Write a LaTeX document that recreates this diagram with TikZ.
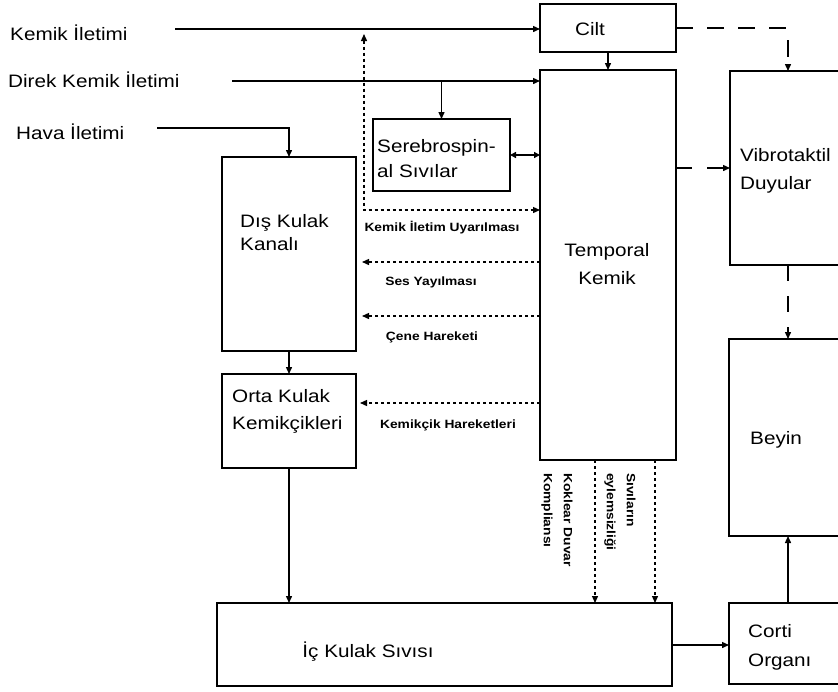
\documentclass[tikz,border=0pt]{standalone}
\usepackage{fontspec}
\setmainfont{Liberation Sans}[FakeStretch=1.15]
\usetikzlibrary{arrows.meta}
\begin{document}
\begin{tikzpicture}[x=1pt,y=-1pt,
  box/.style={draw, line width=1.4pt, inner sep=0pt, outer sep=0pt},
  lbl/.style={inner sep=0pt, font=\fontsize{18}{25}\selectfont, align=left},
  small/.style={inner sep=0pt, font=\fontsize{12}{14}\selectfont\bfseries},
  vlab/.style={inner sep=0pt, font=\fontsize{12}{20}\selectfont\bfseries, align=left, rotate=-90, anchor=west},
  tip/.style={-{Triangle[length=7pt,width=6pt]}},
  conn/.style={line width=1.4pt, tip},
  dotconn/.style={line width=1.3pt, dash pattern=on 3pt off 3pt, tip},
  bigdash/.style={line width=1.4pt, dash pattern=on 16pt off 15pt, tip},
]
\clip (0,0) rectangle (838,691);
\fill[white] (0,0) rectangle (838,691);

% boxes
\node[box, minimum width=136pt, minimum height=48pt] (cilt) at (608,28) {};
\node[box, minimum width=136pt, minimum height=390pt] (temporal) at (608,265) {};
\node[box, minimum width=137pt, minimum height=72pt] (sereb) at (441.5,155) {};
\node[box, minimum width=134pt, minimum height=194pt] (dis) at (289,254) {};
\node[box, minimum width=134pt, minimum height=94pt] (orta) at (289,421) {};
\node[box, minimum width=455pt, minimum height=83pt] (ic) at (444.5,644.5) {};
\node[box, minimum width=122pt, minimum height=194pt] (vibro) at (791,168) {};
\node[box, minimum width=122pt, minimum height=197pt] (beyin) at (790,437.5) {};
\node[box, minimum width=122pt, minimum height=81pt] (corti) at (790,643.5) {};

% box texts
\node[lbl] (tcilt) at (590,29) {Cilt};
\node[lbl, anchor=west] (tsereb) at (377,159) {Serebrospin-\\al Sıvılar};
\node[lbl, anchor=west, font=\fontsize{18}{23}\selectfont] (tdis) at (240,233) {Dış Kulak\\Kanalı};
\node[lbl, anchor=west, font=\fontsize{18}{27}\selectfont] (torta) at (232,411) {Orta Kulak\\Kemikçikleri};
\node[lbl, align=center, font=\fontsize{18}{28}\selectfont] (ttemp) at (607,264) {Temporal\\Kemik};
\node[lbl, anchor=west, font=\fontsize{18}{28}\selectfont] (tvibro) at (740,171) {Vibrotaktil\\Duyular};
\node[lbl, anchor=west] (tbeyin) at (750,440) {Beyin};
\node[lbl, anchor=west, font=\fontsize{18}{29}\selectfont] (tcorti) at (748,647) {Corti\\Organı};
\node[lbl] (tic) at (368,652) {İç Kulak Sıvısı};

% left labels
\node[lbl, anchor=west] (lkemik) at (10,33) {Kemik İletimi};
\node[lbl, anchor=west] (ldirek) at (8,80) {Direk Kemik İletimi};
\node[lbl, anchor=west] (lhava) at (16,132) {Hava İletimi};

% coordinates
\coordinate (k0) at (175,29);
\coordinate (d0) at (232,81);
\coordinate (h0) at (157,128);
\coordinate (cv) at (788,0);
\coordinate (tv) at (676,168);
\coordinate (u0) at (364,210);
\coordinate (u1) at (364,34);
\coordinate (s0) at (362,262);
\coordinate (c0) at (362,316);
\coordinate (m0) at (360,403);
\coordinate (v1) at (595,0);
\coordinate (v2) at (655,0);

% solid connectors
\draw[conn] (k0) -- (cilt.west |- k0);
\draw[conn] (d0) -- (temporal.west |- d0);
\draw[conn] (sereb.north |- d0) -- (sereb.north);
\draw[conn] (h0) -- (dis.north |- h0) -- (dis.north);
\draw[conn] (dis.south) -- (orta.north);
\draw[conn] (orta.south) -- (orta.south |- ic.north);
\draw[conn] (cilt.south) -- (temporal.north);
\draw[conn] (ic.east |- 0,645) -- (corti.west |- 0,645);
\draw[conn] (cv |- corti.north) -- (cv |- beyin.south);
\draw[line width=1.4pt, {Triangle[length=6pt,width=6pt]}-{Triangle[length=6pt,width=6pt]}] (sereb.east) -- (temporal.west |- sereb.east);

% dashed connectors
\draw[bigdash, dash pattern=on 17pt off 14pt] (cilt.east) -- (cv |- cilt.east) -- (cv |- vibro.north);
\draw[bigdash] (temporal.east |- tv) -- (vibro.west |- tv);
\draw[bigdash] (cv |- vibro.south) -- (cv |- beyin.north);

% dotted connectors
\draw[dotconn, {Triangle[length=7pt,width=6pt]}-{Triangle[length=7pt,width=6pt]}] (u1) -- (u0) -- (temporal.west |- u0);
\draw[dotconn] (temporal.west |- s0) -- (s0);
\draw[dotconn] (temporal.west |- c0) -- (c0);
\draw[dotconn] (temporal.west |- m0) -- (m0);
\draw[dotconn] (v1 |- temporal.south) -- (v1 |- ic.north);
\draw[dotconn] (v2 |- temporal.south) -- (v2 |- ic.north);

% small labels
\node[small] (lkiu) at (442,228) {Kemik İletim Uyarılması};
\node[small] (lses) at (431,282) {Ses Yayılması};
\node[small] (lcene) at (432,337) {Çene Hareketi};
\node[small] (lkh) at (448,425) {Kemikçik Hareketleri};
\node[vlab] (lkok) at (557,473) {Koklear Duvar\\Kompliansı};
\node[vlab] (lsiv) at (620,473) {Sıvıların\\eylemsizliği};
\end{tikzpicture}
\end{document}
